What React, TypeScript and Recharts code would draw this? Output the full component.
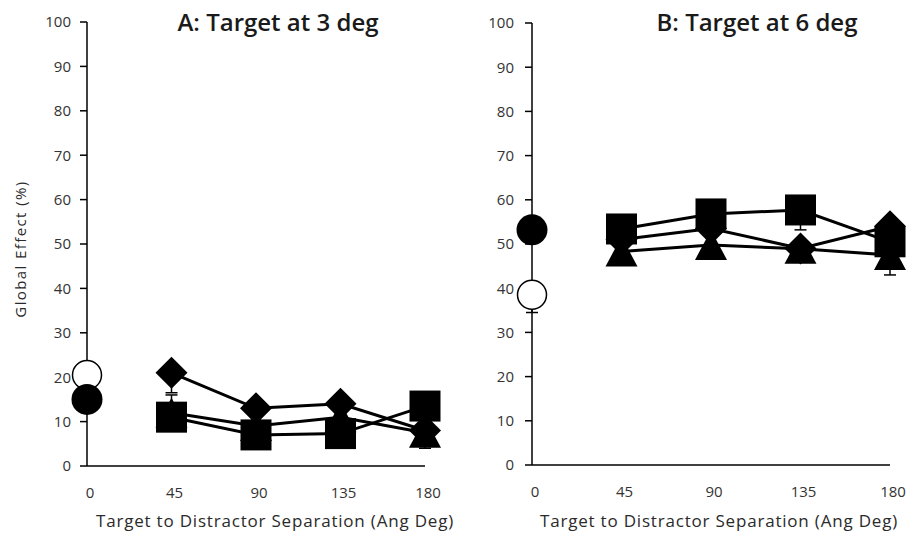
import React from 'react';
import { ComposedChart, Line, XAxis, YAxis, ErrorBar } from 'recharts';

const XS = [0, 45, 90, 135, 180];
const Y_TICKS = [0, 10, 20, 30, 40, 50, 60, 70, 80, 90, 100];

// Panel A: Target at 3 deg  (error bars given as [minus, plus])
const A_DIAMOND = [null, 21, 13, 14, 8];
const A_DIAMOND_ERR = [null, [4.5, 0], [2, 0], [2, 0], [2, 0]];
const A_TRIANGLE = [null, 12, 9, 11, 7.5];
const A_TRIANGLE_ERR = [null, [0, 4], [2, 0], [2, 0], [3.5, 0]];
const A_SQUARE = [null, 11, 7, 7.3, 13.5];
const A_SQUARE_ERR = [null, [2, 0], [2, 0], [2, 0], [2, 0]];
const A_OPEN = [20.5, null, null, null, null];
const A_FILLED = [15, null, null, null, null];

// Panel B: Target at 6 deg
const B_DIAMOND = [null, 51, 53.5, 49, 54];
const B_DIAMOND_ERR = [null, [2, 0], [2, 0], [2, 0], [2, 0]];
const B_TRIANGLE = [null, 48.3, 49.8, 48.9, 47.5];
const B_TRIANGLE_ERR = [null, [2, 0], [2, 0], [2, 0], [4.5, 0]];
const B_SQUARE = [null, 53.4, 56.8, 57.7, 50.5];
const B_SQUARE_ERR = [null, [2, 0], [2, 0], [4.5, 0], [2, 0]];
const B_OPEN = [38.5, null, null, null, null];
const B_OPEN_ERR = [[4, 0], null, null, null, null];
const B_FILLED = [53.2, null, null, null, null];

const FONT = '"Open Sans", "DejaVu Sans", sans-serif';

function rows(vals: (number | null)[], errs?: any[]) {
  const out: { x: number; y: number; err: any }[] = [];
  vals.forEach((v, i) => {
    if (v !== null && v !== undefined) out.push({ x: XS[i], y: v, err: errs && errs[i] != null ? errs[i] : [0, 0] });
  });
  return out;
}

type Kind = 'square' | 'diamond' | 'triangle' | 'open' | 'filled';

function makeDot(kind: Kind) {
  return (props: any) => {
    const { cx, cy, index } = props;
    const key = `${kind}-${index}`;
    if (cx == null || cy == null || isNaN(cx) || isNaN(cy)) return <g key={key} />;
    if (kind === 'square') {
      const s = 31;
      return <rect key={key} x={cx - s / 2} y={cy - s / 2} width={s} height={s} fill="#000" />;
    }
    if (kind === 'diamond') {
      const h = 16;
      return (
        <polygon key={key} points={`${cx},${cy - h} ${cx + h},${cy} ${cx},${cy + h} ${cx - h},${cy}`} fill="#000" />
      );
    }
    if (kind === 'triangle') {
      const w = 32;
      const h = 30;
      return (
        <polygon
          key={key}
          points={`${cx},${cy - h / 2} ${cx + w / 2},${cy + h / 2} ${cx - w / 2},${cy + h / 2}`}
          fill="#000"
        />
      );
    }
    if (kind === 'open') {
      return <circle key={key} cx={cx} cy={cy} r={14.5} fill="#fff" stroke="#000" strokeWidth={1.5} />;
    }
    return <circle key={key} cx={cx} cy={cy} r={15.5} fill="#000" />;
  };
}

const tickStyle = { fill: '#333', fontSize: 15, fontFamily: FONT };

function Panel(props: {
  width: number;
  marginLeft: number;
  marginRight: number;
  marginTop: number;
  marginBottom: number;
  yTickMargin: number;
  xTitleX: number;
  showYTitle: boolean;
  diamond: any[];
  triangle: any[];
  square: any[];
  open: any[];
  filled: any[];
  openErr: boolean;
}) {
  const lineProps = {
    type: 'linear' as const,
    dataKey: 'y',
    stroke: '#000',
    strokeWidth: 3,
    isAnimationActive: false,
    activeDot: false as const,
  };
  const eb = <ErrorBar dataKey="err" direction="y" width={6} stroke="#000" strokeWidth={1.5} />;
  return (
    <ComposedChart
      width={props.width}
      height={540}
      margin={{ top: props.marginTop, right: props.marginRight, bottom: props.marginBottom, left: props.marginLeft }}
    >
      <XAxis
        type="number"
        dataKey="x"
        domain={[0, 180]}
        ticks={XS}
        tickLine={false}
        tickSize={0}
        tickMargin={21}
        axisLine={{ stroke: '#000', strokeWidth: 1.5 }}
        tick={{ ...tickStyle, dx: 3 }}
        height={30}
        allowDuplicatedCategory={false}
        label={{
          content: () => (
            <text
              x={props.xTitleX}
              y={527}
              textAnchor="middle"
              fontSize={17}
              letterSpacing={0.8}
              fontFamily={FONT}
              fill="#2a2a2a"
            >
              Target to Distractor Separation (Ang Deg)
            </text>
          ),
        }}
      />
      <YAxis
        type="number"
        domain={[0, 100]}
        ticks={Y_TICKS}
        width={50}
        tickSize={7}
        tickMargin={props.yTickMargin}
        tickLine={{ stroke: '#000', strokeWidth: 1.5 }}
        axisLine={{ stroke: '#000', strokeWidth: 1.5 }}
        tick={tickStyle}
        label={
          props.showYTitle
            ? {
                content: () => (
                  <text
                    x={20}
                    y={249}
                    transform="rotate(-90, 20, 249)"
                    textAnchor="middle"
                    dominantBaseline="central"
                    fontSize={15}
                    letterSpacing={1.4}
                    fontFamily={FONT}
                    fill="#2a2a2a"
                  >
                    Global Effect (%)
                  </text>
                ),
              }
            : undefined
        }
      />
      <Line {...lineProps} data={props.diamond} dot={makeDot('diamond')}>
        {eb}
      </Line>
      <Line {...lineProps} data={props.triangle} dot={makeDot('triangle')}>
        {eb}
      </Line>
      <Line {...lineProps} data={props.square} dot={makeDot('square')}>
        {eb}
      </Line>
      <Line {...lineProps} data={props.open} dot={makeDot('open')}>
        {props.openErr ? eb : null}
      </Line>
      <Line {...lineProps} data={props.filled} dot={makeDot('filled')} />
    </ComposedChart>
  );
}

const titleStyle: React.CSSProperties = {
  position: 'absolute',
  top: 10,
  width: 300,
  textAlign: 'center',
  fontFamily: FONT,
  fontSize: 24,
  fontWeight: 600,
  lineHeight: '24px',
  color: '#1a1a1a',
  whiteSpace: 'nowrap',
};

export default function App() {
  return (
    <div style={{ position: 'absolute', left: 0, top: 0, width: 907, height: 540, background: '#fff', overflow: 'hidden' }}>
      <div style={{ position: 'absolute', left: 450, top: 0 }}>
        <Panel
          width={457}
          marginLeft={32}
          marginRight={17}
          marginTop={23}
          marginBottom={45}
          yTickMargin={11}
          xTitleX={269}
          showYTitle={false}
          diamond={rows(B_DIAMOND, B_DIAMOND_ERR)}
          triangle={rows(B_TRIANGLE, B_TRIANGLE_ERR)}
          square={rows(B_SQUARE, B_SQUARE_ERR)}
          open={rows(B_OPEN, B_OPEN_ERR)}
          filled={rows(B_FILLED)}
          openErr={true}
        />
      </div>
      <div style={{ position: 'absolute', left: 0, top: 0 }}>
        <Panel
          width={470}
          marginLeft={37}
          marginRight={45}
          marginTop={22}
          marginBottom={44}
          yTickMargin={9}
          xTitleX={275}
          showYTitle={true}
          diamond={rows(A_DIAMOND, A_DIAMOND_ERR)}
          triangle={rows(A_TRIANGLE, A_TRIANGLE_ERR)}
          square={rows(A_SQUARE, A_SQUARE_ERR)}
          open={rows(A_OPEN)}
          filled={rows(A_FILLED)}
          openErr={false}
        />
      </div>
      <div style={{ ...titleStyle, left: 278 - 150 }}>A: Target at 3 deg</div>
      <div style={{ ...titleStyle, left: 757 - 150 }}>B: Target at 6 deg</div>
    </div>
  );
}
